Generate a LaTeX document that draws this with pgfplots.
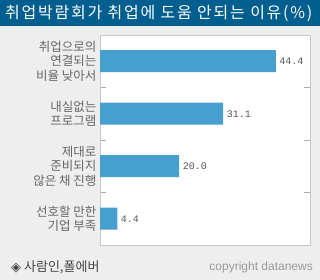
\documentclass[border=0pt]{standalone}
\usepackage{fontspec}
\setmainfont{Noto Sans CJK KR}
\newfontfamily\monofont{Liberation Mono}
\newfontfamily\symfont{DejaVu Sans}
\newfontfamily\latinfont{Liberation Sans}
\usepackage{pgfplots}
\pgfplotsset{compat=1.18}
\definecolor{bg}{HTML}{EEEEEE}
\definecolor{titlebar}{HTML}{005F8E}
\definecolor{barblue}{HTML}{479FCF}
\definecolor{boxgray}{HTML}{C8C8C8}
\definecolor{tickgray}{HTML}{AAAAAA}
\definecolor{labgray}{HTML}{666666}
\definecolor{valgray}{HTML}{555555}
\definecolor{footgray}{HTML}{444444}
\definecolor{copygray}{HTML}{999999}
\begin{document}
\begin{tikzpicture}
\fill[bg] (0pt,0pt) rectangle (320pt,280pt);
\fill[titlebar] (0pt,254pt) rectangle (320pt,280pt);
\node[anchor=west, text=white, font=\fontsize{16}{18}\selectfont\addfontfeatures{LetterSpace=11}, inner sep=0] at (5pt,267pt) {취업박람회가 취업에 도움 안되는 이유(\%)};
\begin{axis}[
  at={(100pt,35pt)}, anchor=south west, scale only axis,
  width=210pt, height=210pt,
  xbar, xmin=0, xmax=53, ymin=-0.5, ymax=3.5,
  bar width=22pt,
  axis background/.style={fill=white},
  axis line style={draw=boxgray},
  xtick=\empty,
  ytick={0,1,2,3},
  yticklabels={{선호할 만한\\기업 부족},{제대로\\준비되지\\않은 채 진행},{내실없는\\프로그램},{취업으로의\\연결되는\\비율 낮아서}},
  minor ytick={0.5,1.5,2.5},
  major tick length=0pt, minor tick length=6pt, tick align=inside,
  minor tick style={draw=tickgray},
  yticklabel style={align=right, font=\fontsize{12.5}{14.5}\selectfont, text=labgray},
  point meta=x,
  nodes near coords={\pgfmathprintnumber[fixed,fixed zerofill,precision=1,assume math mode=true]{\pgfplotspointmeta}},
  nodes near coords style={font=\monofont\fontsize{10}{12}\selectfont, text=valgray, anchor=west},
  clip=false]
\addplot[fill=barblue, draw=none] coordinates {(4.4,0) (20.0,1) (31.1,2) (44.4,3)};
\end{axis}
\node[anchor=west, text=footgray, font=\fontsize{13}{15}\selectfont, inner sep=0] at (11pt,13pt) {{\symfont ◈} 사람인,폴에버};
\node[anchor=east, text=copygray, font=\latinfont\fontsize{12}{14}\selectfont, inner sep=0] at (313pt,13pt) {copyright datanews};
\end{tikzpicture}
\end{document}
